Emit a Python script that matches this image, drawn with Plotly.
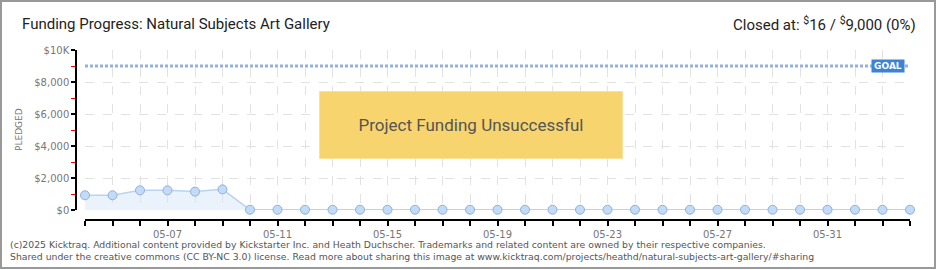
import plotly.graph_objects as go
import pandas as pd

# ---- data ----
dates = pd.date_range("2025-05-04", "2025-06-03", freq="D").strftime("%Y-%m-%d").tolist()
pledged = [920, 920, 1230, 1230, 1150, 1290] + [16] * 25
goal = 9000
goal_x = [dates[0], dates[-1]]
goal_y = [goal, goal]
title_text = "Funding Progress: Natural Subjects Art Gallery"
closed_text = "Closed at: <sup>$</sup>16 / <sup>$</sup>9,000 (0%)"
status_text = "Project Funding Unsuccessful"
footer_lines = [
    "(c)2025 Kicktraq. Additional content provided by Kickstarter Inc. and Heath Duchscher. Trademarks and related content are owned by their respective companies.",
    "Shared under the creative commons (CC BY-NC 3.0) license. Read more about sharing this image at www.kicktraq.com/projects/heathd/natural-subjects-art-gallery/#sharing",
]
y_ticks = [0, 2000, 4000, 6000, 8000, 10000]
y_ticklabels = ["$0", "$2,000", "$4,000", "$6,000", "$8,000", "$10K"]

# ---- layout geometry (pixels) ----
W, H = 940, 270
ML, MR, MT, MB = 60, 30, 50, 50
PW = W - ML - MR
PH = H - MT - MB


def px(x):
    return (x - ML) / PW


def py(y):
    return (H - MB - y) / PH


fig = go.Figure()

fig.add_trace(go.Scatter(
    x=goal_x, y=goal_y, mode="lines",
    line=dict(color="#8fb2e3", width=3, dash="3px,2px"),
    hoverinfo="skip", showlegend=False,
))

fig.add_trace(go.Scatter(
    x=dates, y=pledged, mode="lines+markers",
    fill="tozeroy", fillcolor="rgba(214,230,248,0.5)",
    line=dict(color="#b9d3f0", width=1.5),
    marker=dict(size=9, color="#c2dbf6", line=dict(color="#8fb0dc", width=1)),
    cliponaxis=False, showlegend=False,
))

font_main = "Roboto, DejaVu Sans, sans-serif"
font_small = "DejaVu Sans, sans-serif"

fig.update_layout(
    width=W, height=H,
    margin=dict(l=ML, r=MR, t=MT, b=MB, pad=0),
    paper_bgcolor="white", plot_bgcolor="white",
    showlegend=False,
    xaxis=dict(
        type="date",
        range=[dates[0], dates[-1]],
        domain=[px(85), px(910)],
        anchor="free", position=0,
        showline=True, linecolor="black", linewidth=1.5,
        ticks="outside", ticklen=5, tickcolor="black", tickwidth=1.5,
        tick0="2025-05-07", dtick=4 * 86400000,
        tickformat="%m-%d",
        tickfont=dict(family=font_small, size=10, color="#777"),
        showgrid=True, gridcolor="#e2e2e2", griddash="dash", gridwidth=1,
        minor=dict(dtick=86400000, tick0="2025-05-04", ticks="outside", ticklen=5,
                   tickcolor="black", tickwidth=1.5,
                   showgrid=True, gridcolor="#e2e2e2", griddash="dash", gridwidth=1),
        zeroline=False,
    ),
    yaxis=dict(
        range=[0, 10000],
        domain=[py(210), 1],
        anchor="free", position=px(76),
        showline=True, linecolor="black", linewidth=1.5,
        ticks="outside", ticklen=4, tickcolor="black", tickwidth=1.5,
        tickvals=y_ticks, ticktext=y_ticklabels,
        tickfont=dict(family=font_small, size=10, color="#777"),
        showgrid=True, gridcolor="#e2e2e2", griddash="dash", gridwidth=1,
        minor=dict(dtick=1000, ticks="outside", ticklen=4, tickcolor="red", tickwidth=1,
                   showgrid=False),
        zeroline=False,
    ),
)

annotations = [
    dict(text=title_text, x=px(20), y=py(24), xref="paper", yref="paper",
         xanchor="left", yanchor="middle", showarrow=False,
         font=dict(family=font_main, size=15, color="#222")),
    dict(text=closed_text, x=px(918), y=py(24), xref="paper", yref="paper",
         xanchor="right", yanchor="middle", showarrow=False,
         font=dict(family=font_main, size=15, color="#222")),
    dict(text="PLEDGED", x=px(19), y=py(130), xref="paper", yref="paper",
         textangle=-90, xanchor="center", yanchor="middle", showarrow=False,
         font=dict(family=font_small, size=9, color="#777")),
    dict(text="<br>".join(footer_lines), x=px(8), y=py(237), xref="paper", yref="paper",
         xanchor="left", yanchor="top", align="left", showarrow=False,
         font=dict(family=font_small, size=9.3, color="#555")),
    dict(text=status_text, x=px(470.5), y=py(125), xref="paper", yref="paper",
         xanchor="center", yanchor="middle", showarrow=False,
         width=300, height=64, bgcolor="#f7d46e", bordercolor="#f9e39a", borderwidth=1,
         font=dict(family=font_main, size=17, color="#555")),
    dict(text="<b>GOAL</b>", x=dates[-1], y=goal, xref="x", yref="y",
         xanchor="right", yanchor="middle", xshift=-5, showarrow=False,
         bgcolor="#3c82d6", borderpad=1, width=30,
         font=dict(family=font_small, size=9, color="white")),
]
fig.update_layout(annotations=annotations)

fig.add_shape(type="rect", xref="paper", yref="paper",
              x0=px(1), x1=px(935), y0=py(268), y1=py(1),
              line=dict(color="#999", width=2), layer="below")

fig.write_html("out.html")
